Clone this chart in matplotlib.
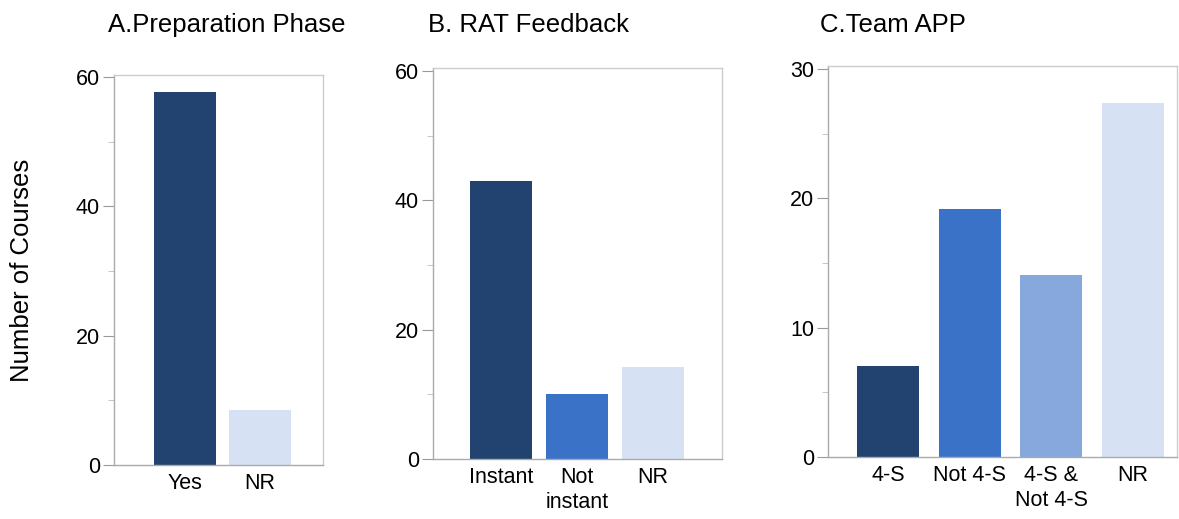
import numpy as np
import matplotlib.pyplot as plt
from matplotlib.ticker import MultipleLocator

plt.rcParams['font.family'] = ['Liberation Sans', 'DejaVu Sans']

W, H = 1179, 519

# data
cats_a = ['Yes', 'NR']
vals_a = [57.7, 8.5]
cats_b = ['Instant', 'Not\ninstant', 'NR']
vals_b = [43.0, 10.0, 14.2]
cats_c = ['4-S', 'Not 4-S', '4-S &\nNot 4-S', 'NR']
vals_c = [7.0, 19.2, 14.1, 27.4]

dark = '#22436f'
mid = '#3a72c8'
light = '#86a8dc'
pale = '#d6e1f3'

fig = plt.figure(figsize=(W / 100, H / 100), dpi=100)


def panel(left, right, top, bottom, cats, vals, colors, ylim, xlim, width,
          major, minor, title, title_x):
    ax = fig.add_axes([left / W, 1 - bottom / H, (right - left) / W, (bottom - top) / H])
    x = np.arange(len(cats))
    ax.bar(x, vals, width=width, color=colors)
    ax.set_xlim(*xlim)
    ax.set_ylim(*ylim)
    ax.set_xticks(x)
    ax.set_xticklabels(cats, fontsize=15.5, linespacing=1.2)
    ax.tick_params(axis='x', length=0, pad=6)
    ax.yaxis.set_major_locator(MultipleLocator(major))
    ax.yaxis.set_minor_locator(MultipleLocator(minor))
    ax.tick_params(axis='y', which='major', length=8, color='#999999', labelsize=15.5, pad=2)
    ax.tick_params(axis='y', which='minor', length=4, color='#bbbbbb')
    for s in ax.spines.values():
        s.set_color('#cccccc')
        s.set_linewidth(1)
    ax.spines['left'].set_color('#aaaaaa')
    ax.spines['bottom'].set_color('#aaaaaa')
    fig.text(title_x / W, 1 - 25 / H, title, fontsize=18.5, ha='left', va='center')
    return ax


panel(114, 323, 75, 465, cats_a, vals_a, [dark, pale], (0, 60.3),
      (-0.947, 1.84), 0.827, 20, 10, 'A.Preparation Phase', 108)
panel(433, 722, 68, 459, cats_b, vals_b, [dark, mid, pale], (0, 60.46),
      (-0.895, 2.908), 0.816, 20, 10, 'B. RAT Feedback', 428)
panel(828, 1177, 66, 457, cats_c, vals_c, [dark, mid, light, pale], (0, 30.23),
      (-0.734, 3.54), 0.76, 10, 5, 'C.Team APP', 820)

fig.text(22 / W, 1 - 270 / H, 'Number of Courses', fontsize=18.5, rotation=90,
         ha='center', va='center')

fig.savefig('out.png', dpi=100)
